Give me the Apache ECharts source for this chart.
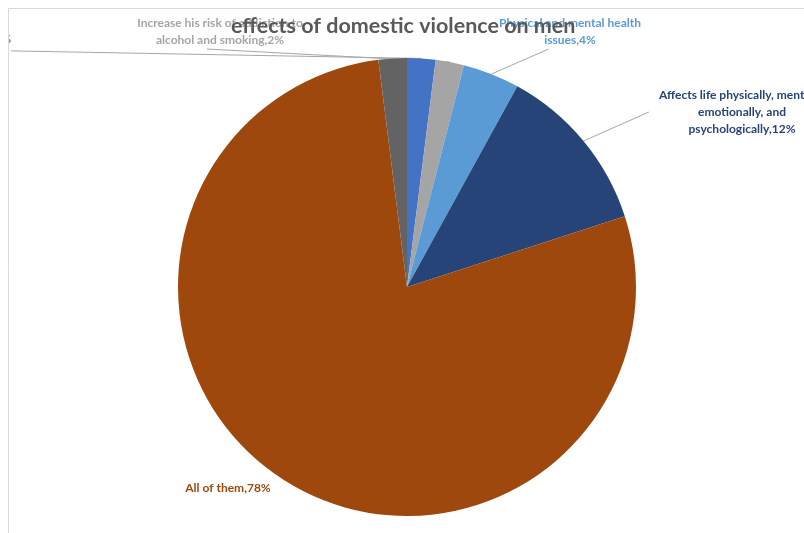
<!DOCTYPE html>
<html>
<head>
<meta charset="utf-8">
<script src="https://cdn.jsdelivr.net/npm/echarts@6/dist/echarts.min.js"></script>
<style>
  html, body { margin: 0; padding: 0; background: #ffffff; }
  #chart { width: 804px; height: 533px; }
</style>
</head>
<body>
<div id="chart"></div>
<script>
// Survey answers and their shares (percent)
const titleText = 'effects of domestic violence on men';
const categories = [
  'Depression',
  'Increase his risk of addiction to\nalcohol and smoking',
  'Physical and mental health\nissues',
  'Affects life physically, mentally,\nemotionally, and\npsychologically',
  'All of them',
  'None of them'
];
const percents = [2, 2, 4, 12, 78, 2];

// Styling
const sliceColors = ['#4472C4', '#A5A5A5', '#5B9BD5', '#264478', '#9E480E', '#636363'];
const labelVisible = [true, true, true, true, true, false];
const leaderVisible = [true, true, true, true, false, false];
// label anchor point, horizontal alignment, and where the leader line meets the label box
const labelPlace = [
  { x: 11, y: 39, align: 'right', hook: [1, 1.2] },
  { x: 220, y: 32, align: 'center', hook: [0.42, 1] },
  { x: 570, y: 32, align: 'center', hook: [0.35, 1] },
  { x: 742, y: 112, align: 'center', hook: [-0.06, 0.5] },
  { x: 228, y: 488, align: 'center', hook: null },
  { x: 0, y: 0, align: 'center', hook: null }
];

const FONT = 'Lato, "Open Sans", sans-serif';

const chart = echarts.init(document.getElementById('chart'), null, { renderer: 'canvas' });

const pieData = categories.map((name, i) => ({
  name: name,
  value: percents[i],
  itemStyle: { color: sliceColors[i] },
  label: { show: labelVisible[i], color: sliceColors[i] },
  labelLine: { show: leaderVisible[i] }
}));

chart.setOption({
  backgroundColor: '#ffffff',
  animation: false,
  title: {
    text: titleText,
    left: 226,
    top: 10,
    textStyle: { fontFamily: FONT, fontSize: 21.5, fontWeight: 'bold', color: '#595959' }
  },
  graphic: [
    // chart-area frame; the strip left of it hides overflowing text
    { type: 'rect', z: 100, silent: true,
      shape: { x: 0, y: 0, width: 8, height: 533 }, style: { fill: '#ffffff' } },
    { type: 'rect', z: 101, silent: true,
      shape: { x: 8.5, y: 8.5, width: 900, height: 600 },
      style: { fill: 'none', stroke: '#D9D9D9', lineWidth: 1 } }
  ],
  series: [{
    type: 'pie',
    center: [407, 287],
    radius: 229,
    startAngle: 90,
    clockwise: true,
    avoidLabelOverlap: false,
    data: pieData,
    label: {
      position: 'outside',
      formatter: p => p.name + ',' + p.value + '%',
      fontFamily: FONT,
      fontSize: 12,
      fontWeight: 'bold',
      lineHeight: 17,
      align: 'center'
    },
    labelLine: {
      show: true,
      length: 10,
      length2: 10,
      lineStyle: { color: '#A6A6A6', width: 1 }
    },
    labelLayout: function (params) {
      const place = labelPlace[params.dataIndex];
      const w = params.labelRect.width;
      const h = params.labelRect.height;
      const out = { x: place.x, y: place.y, align: place.align, verticalAlign: 'middle' };
      if (place.hook && params.labelLinePoints) {
        const left = place.align === 'right' ? place.x - w : place.x - w / 2;
        const top = place.y - h / 2;
        const start = params.labelLinePoints[0];
        const end = [left + place.hook[0] * w, top + place.hook[1] * h];
        const mid = [(start[0] + end[0]) / 2, (start[1] + end[1]) / 2];
        out.labelLinePoints = [start, mid, end];
      }
      return out;
    }
  }]
});
</script>
</body>
</html>
